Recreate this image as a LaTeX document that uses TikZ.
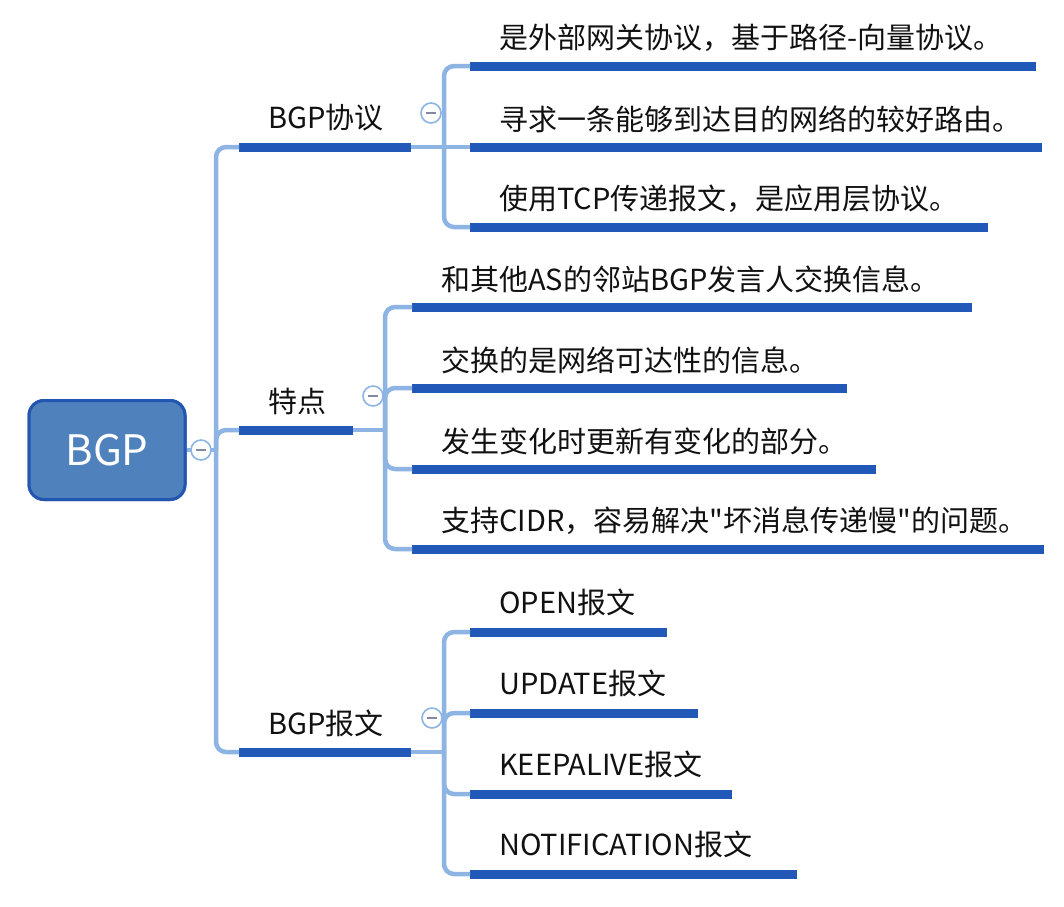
\documentclass[tikz,border=0pt]{standalone}
\usepackage{fontspec}
\newfontfamily\cjk{Noto Sans CJK SC}
\definecolor{ul}{RGB}{34,89,184}
\definecolor{cn}{RGB}{141,180,226}
\definecolor{rootfill}{RGB}{79,129,189}
\definecolor{rootdraw}{RGB}{35,86,176}
\definecolor{mn}{RGB}{130,136,165}
\definecolor{txt}{RGB}{17,17,17}
\begin{document}
\begin{tikzpicture}[x=1pt,y=-1pt,
  ubar/.style={rectangle, fill=ul, draw=none, inner sep=0pt, minimum height=9pt, anchor=west},
  lbl/.style={anchor=west, inner sep=0pt, text=txt, font=\cjk\fontsize{29}{34}\selectfont},
  conn/.style={draw=cn, line width=4.5pt},
  root/.style={rectangle, rounded corners=15pt, fill=rootfill, draw=rootdraw, line width=3pt,
    minimum width=156pt, minimum height=99pt, text=white, font=\cjk\fontsize{42}{48}\selectfont},
  tog/.style={circle, draw=cn, fill=white, line width=1.6pt, minimum size=20pt, inner sep=0pt,
    path picture={\draw[mn, line width=1.6pt] ([xshift=-5pt]path picture bounding box.center) -- ([xshift=5pt]path picture bounding box.center);}}
]
\useasboundingbox (0,0) rectangle (1064,906);
\fill[white] (0,0) rectangle (1064,906);

% root
\node[root] (root) at (107,450) {BGP};

% level 1 underlines
\node[ubar, minimum width=172pt] (L1) at (239,147) {};
\node[ubar, minimum width=114pt] (L2) at (239,430) {};
\node[ubar, minimum width=172pt] (L3) at (239,752) {};

% group 1
\node[ubar, minimum width=566pt] (A1) at (470,66) {};
\node[ubar, minimum width=572pt] (A2) at (470,147) {};
\node[ubar, minimum width=518pt] (A3) at (470,227) {};
% group 2
\node[ubar, minimum width=560pt] (B1) at (412,307) {};
\node[ubar, minimum width=435pt] (B2) at (412,388) {};
\node[ubar, minimum width=464pt] (B3) at (412,469) {};
\node[ubar, minimum width=632pt] (B4) at (412,549) {};
% group 3
\node[ubar, minimum width=197pt] (C1) at (470,632) {};
\node[ubar, minimum width=228pt] (C2) at (470,713) {};
\node[ubar, minimum width=262pt] (C3) at (470,794) {};
\node[ubar, minimum width=327pt] (C4) at (470,874) {};

% texts
\node[lbl] (tL1) at ([shift={(29,-29)}]L1.west) {BGP协议};
\node[lbl] (tL2) at ([shift={(29,-29)}]L2.west) {特点};
\node[lbl] (tL3) at ([shift={(29,-29)}]L3.west) {BGP报文};
\node[lbl] (tA1) at ([shift={(29,-28)}]A1.west) {是外部网关协议，基于路径-向量协议。};
\node[lbl] (tA2) at ([shift={(29,-28)}]A2.west) {寻求一条能够到达目的网络的较好路由。};
\node[lbl] (tA3) at ([shift={(29,-28)}]A3.west) {使用TCP传递报文，是应用层协议。};
\node[lbl] (tB1) at ([shift={(29,-28)}]B1.west) {和其他AS的邻站BGP发言人交换信息。};
\node[lbl] (tB2) at ([shift={(29,-28)}]B2.west) {交换的是网络可达性的信息。};
\node[lbl] (tB3) at ([shift={(29,-28)}]B3.west) {发生变化时更新有变化的部分。};
\node[lbl] (tB4) at ([shift={(29,-28)}]B4.west) {支持CIDR，容易解决"坏消息传递慢"的问题。};
\node[lbl] (tC1) at ([shift={(29,-30)}]C1.west) {OPEN报文};
\node[lbl] (tC2) at ([shift={(29,-30)}]C2.west) {UPDATE报文};
\node[lbl] (tC3) at ([shift={(29,-30)}]C3.west) {KEEPALIVE报文};
\node[lbl] (tC4) at ([shift={(29,-30)}]C4.west) {NOTIFICATION报文};

% junction coordinates
\coordinate (j0) at (216,450);
\coordinate (j1) at (444,147);
\coordinate (j2) at (385,430);
\coordinate (j3) at (444,752);

% connectors
\draw[conn] (root.east) -- (j0);
\draw[conn, rounded corners=10pt] (j0) |- (L1.west);
\draw[conn, rounded corners=10pt] (j0) |- (L2.west);
\draw[conn, rounded corners=10pt] (j0) |- (L3.west);

\draw[conn] (L1.east) -- (j1);
\draw[conn, rounded corners=10pt] (j1) |- (A1.west);
\draw[conn] (j1) -- (A2.west);
\draw[conn, rounded corners=10pt] (j1) |- (A3.west);

\draw[conn] (L2.east) -- (j2);
\draw[conn, rounded corners=10pt] (j2) |- (B1.west);
\draw[conn, rounded corners=10pt] (j2) |- (B2.west);
\draw[conn, rounded corners=10pt] (j2) |- (B3.west);
\draw[conn, rounded corners=10pt] (j2) |- (B4.west);

\draw[conn] (L3.east) -- (j3);
\draw[conn, rounded corners=10pt] (j3) |- (C1.west);
\draw[conn, rounded corners=10pt] (j3) |- (C2.west);
\draw[conn, rounded corners=10pt] (j3) |- (C3.west);
\draw[conn, rounded corners=10pt] (j3) |- (C4.west);

% redraw root on top of its connector
\node[root] at (root.center) {BGP};

% collapse toggles
\node[tog] (g0) at (201,450) {};
\node[tog] (g1) at (431,113) {};
\node[tog] (g2) at (373,396) {};
\node[tog] (g3) at (432,718) {};
\end{tikzpicture}
\end{document}
